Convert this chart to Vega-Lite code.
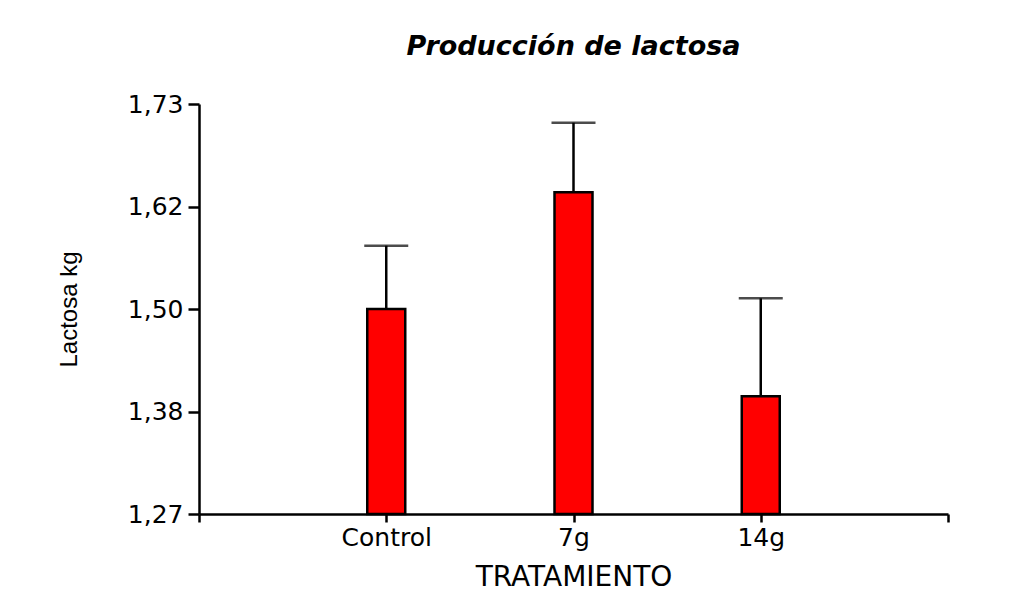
{
  "$schema": "https://vega.github.io/schema/vega-lite/v6.json",
  "autosize": "none",
  "width": 749,
  "height": 410,
  "padding": {"left": 199, "top": 104, "right": 63, "bottom": 95},
  "background": "white",
  "title": {
    "text": "Producción de lactosa",
    "font": "DejaVu Sans",
    "fontSize": 27,
    "fontWeight": "bold",
    "fontStyle": "italic",
    "color": "black",
    "anchor": "middle",
    "offset": 31
  },
  "config": {
    "view": {"stroke": null},
    "axis": {
      "grid": false,
      "domainColor": "black",
      "tickColor": "black",
      "labelColor": "black",
      "titleColor": "black",
      "labelFont": "DejaVu Sans",
      "titleFont": "DejaVu Sans",
      "titleFontWeight": "normal"
    }
  },
  "data": {
    "values": [
      {"pos": 1, "tratamiento": "Control", "lactosa": 1.50, "upper": 1.571},
      {"pos": 2, "tratamiento": "7g", "lactosa": 1.631, "upper": 1.709},
      {"pos": 3, "tratamiento": "14g", "lactosa": 1.402, "upper": 1.512}
    ]
  },
  "encoding": {
    "x": {
      "field": "pos",
      "type": "quantitative",
      "scale": {"domain": [0, 4], "nice": false, "zero": false, "padding": 0},
      "axis": {
        "title": "TRATAMIENTO",
        "titleFontSize": 28,
        "titlePadding": 13,
        "values": [0, 1, 2, 3, 4],
        "labelExpr": "datum.value == 1 ? 'Control' : datum.value == 2 ? '7g' : datum.value == 3 ? '14g' : ''",
        "labelFontSize": 25,
        "labelPadding": 3,
        "tickSize": 8,
        "tickWidth": 2.5,
        "domainWidth": 2.5,
        "labelFlush": false,
        "labelOverlap": false
      }
    }
  },
  "layer": [
    {
      "mark": {"type": "rule", "color": "black", "strokeWidth": 2.5},
      "encoding": {
        "y": {"field": "lactosa", "type": "quantitative"},
        "y2": {"field": "upper"}
      }
    },
    {
      "mark": {"type": "tick", "orient": "horizontal", "color": "black", "size": 44, "thickness": 2.5},
      "encoding": {
        "y": {"field": "upper", "type": "quantitative"}
      }
    },
    {
      "mark": {"type": "bar", "width": 38, "fill": "#FF0000", "stroke": "black", "strokeWidth": 2.5},
      "encoding": {
        "y": {
          "field": "lactosa",
          "type": "quantitative",
          "scale": {"domain": [1.27, 1.73], "nice": false, "zero": false},
          "axis": {
            "title": "Lactosa kg",
            "titleFont": "Liberation Sans",
            "titleFontSize": 24,
            "titlePadding": 46,
            "values": [1.27, 1.385, 1.5, 1.615, 1.73],
            "labelExpr": "datum.value < 1.3 ? '1,27' : datum.value < 1.4 ? '1,38' : datum.value < 1.55 ? '1,50' : datum.value < 1.65 ? '1,62' : '1,73'",
            "labelFontSize": 25,
            "labelPadding": 5,
            "tickSize": 11,
            "tickWidth": 2.5,
            "domainWidth": 2.5
          }
        },
        "y2": {"datum": 1.27}
      }
    }
  ]
}
